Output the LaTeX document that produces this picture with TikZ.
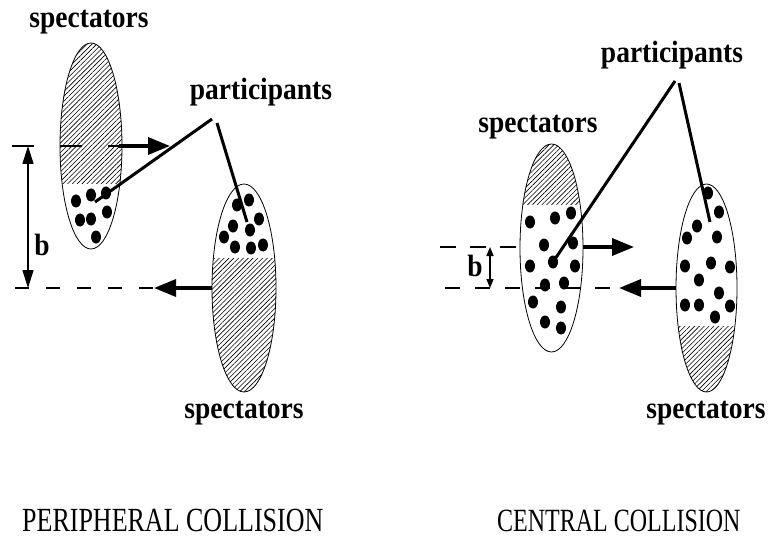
\documentclass[tikz,border=0pt]{standalone}
\usepackage{fontspec}
\setmainfont{Liberation Serif}
\usetikzlibrary{arrows.meta,patterns.meta,shapes.geometric}
\newcommand{\tallbold}[1]{\scalebox{1}[1.12]{#1}}
\begin{document}
\begin{tikzpicture}[x=1pt,y=-1pt,
  lbl/.style={font=\fontsize{27.5}{30}\bfseries\selectfont, inner sep=0pt, anchor=base},
  captxt/.style={inner sep=0pt, anchor=base west},
  hatch/.style={pattern={Lines[angle=45,distance=3.4pt,line width=0.6pt]}},
  nucleus/.style={draw, line width=0.8pt},
  dot/.style={ellipse, fill=black, minimum width=10pt, minimum height=13pt, inner sep=0pt},
  dashline/.style={line width=1.5pt},
  motion/.style={line width=3.5pt, -{Triangle[length=22pt,width=17pt]}},
  conn/.style={line width=3pt},
  bbig/.style={line width=1.5pt, {Triangle[length=18pt,width=11pt]}-{Triangle[length=18pt,width=11pt]}},
  bsmall/.style={line width=1.5pt, {Triangle[length=9pt,width=7pt]}-{Triangle[length=9pt,width=7pt]}}
]
\useasboundingbox (0,0) rectangle (768,540);

% ---------------- PERIPHERAL ----------------
\coordinate (E1) at (91,146);
\coordinate (E2) at (244,288);
\begin{scope}
  \clip (E1) ellipse [x radius=31, y radius=103];
  \fill[hatch] (50,30) rectangle (130,184);
\end{scope}
\begin{scope}
  \clip (E2) ellipse [x radius=32, y radius=104];
  \fill[hatch] (200,258) rectangle (290,400);
\end{scope}
\draw[nucleus] (E1) ellipse [x radius=31, y radius=103];
\draw[nucleus] (E2) ellipse [x radius=32, y radius=104];

\foreach \p [count=\i] in {(76,201),(91,195),(106,193),(80,220),(91,219),(107,212),(96,237)}
  \node[dot] (a\i) at \p {};
\foreach \p [count=\i] in {(237,205),(249,200),(259,219),(233,226),(250,230),(224,237),(235,247),(251,248),(263,245)}
  \node[dot] (b\i) at \p {};

% dashed reference lines
\coordinate (tl0) at (12,146);
\coordinate (tl1) at (119,146);
\coordinate (bl0) at (15,288);
\coordinate (bl1) at (157,288);
\draw[dashline, dash pattern=on 22pt off 26pt] (tl0) -- (tl1);
\draw[dashline, dash pattern=on 14pt off 17pt] (bl0) -- (bl1);

% motion arrows
\coordinate (t1) at (170,146);
\coordinate (t2) at (154,288);
\coordinate (e2w) at (212,288);
\draw[motion] (tl1) -- (t1);
\draw[motion] (e2w) -- (t2);

% impact parameter
\coordinate (bt) at (28,146);
\coordinate (bb) at (28,288);
\draw[bbig] (bt) -- (bb);
\node[lbl] (bL) at (42,255) {\tallbold{b}};

% labels
\node[lbl] (specA) at (89,28) {\tallbold{spectators}};
\node[lbl] (partL) at (261,100) {\tallbold{participants}};
\node[lbl] (specB) at (244,418) {\tallbold{spectators}};
\coordinate (pl1) at (212,119);
\coordinate (pl2) at (217,123);
\coordinate (pe1) at (95,202);
\coordinate (pe2) at (247,222);
\draw[conn] (pl1) -- (pe1);
\draw[conn] (pl2) -- (pe2);

% ---------------- CENTRAL ----------------
\coordinate (E3) at (551.5,248);
\coordinate (E4) at (706.5,288);
\begin{scope}
  \clip (E3) ellipse [x radius=31.5, y radius=104];
  \fill[hatch] (510,130) rectangle (590,205);
\end{scope}
\begin{scope}
  \clip (E4) ellipse [x radius=30.5, y radius=104];
  \fill[hatch] (670,326) rectangle (745,400);
\end{scope}
\draw[nucleus] (E3) ellipse [x radius=31.5, y radius=104];
\draw[nucleus] (E4) ellipse [x radius=30.5, y radius=104];

\foreach \p [count=\i] in {(530,222),(555,218),(571,213),(544,245),(573,243),(530,266),(553,262),(575,266),(545,285),(564,283),(533,302),(561,307),(545,322),(561,328)}
  \node[dot] (c\i) at \p {};
\foreach \p [count=\i] in {(708,193),(719,212),(697,226),(687,238),(717,237),(685,266),(711,263),(730,267),(699,280),(719,293),(685,305),(699,305),(730,306),(715,317)}
  \node[dot] (d\i) at \p {};

\coordinate (tr0) at (440,247);
\coordinate (tr1) at (520,247);
\coordinate (br0) at (445,288);
\coordinate (br1) at (618,288);
\draw[dashline, dash pattern=on 16pt off 14pt] (tr0) -- (tr1);
\draw[dashline, dash pattern=on 15pt off 15pt] (br0) -- (br1);

\coordinate (e3e) at (583,247);
\coordinate (t3) at (634,247);
\coordinate (e4w) at (676,288);
\coordinate (t4) at (619,288);
\draw[motion] (e3e) -- (t3);
\draw[motion] (e4w) -- (t4);

\coordinate (cbt) at (490,247);
\coordinate (cbb) at (490,288);
\draw[bsmall] (cbt) -- (cbb);
\node[lbl] (bR) at (475,276) {\tallbold{b}};

\node[lbl] (specC) at (538,133) {\tallbold{spectators}};
\node[lbl] (partR) at (672,63) {\tallbold{participants}};
\node[lbl] (specD) at (706,418) {\tallbold{spectators}};
\coordinate (pr1) at (675,81);
\coordinate (pr2) at (679,83);
\coordinate (pe4) at (710,222);
\draw[conn] (pr1) -- (c7.center);
\draw[conn] (pr2) -- (pe4);

% captions
\node[captxt, font=\fontsize{26}{30}\selectfont] (capL) at (22,531) {\scalebox{1}[1.3]{PERIPHERAL COLLISION}};
\node[captxt, font=\fontsize{24}{28}\selectfont] (capR) at (497,531) {\scalebox{1}[1.35]{CENTRAL COLLISION}};
\end{tikzpicture}
\end{document}
